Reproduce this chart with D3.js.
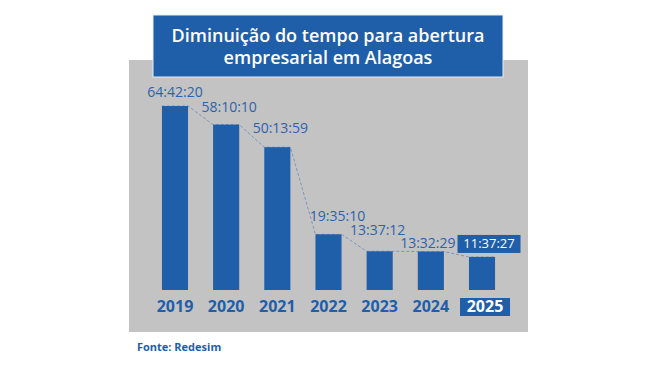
<!DOCTYPE html>
<html>
<head>
<meta charset="utf-8">
<script src="https://cdn.jsdelivr.net/npm/d3@7"></script>
<style>
  body { margin: 0; background: #fff; }
  svg { display: block; font-family: "Open Sans", sans-serif; }
</style>
</head>
<body>
<svg id="chart"></svg>
<script>
const years = ["2019", "2020", "2021", "2022", "2023", "2024", "2025"];
const times = ["64:42:20", "58:10:10", "50:13:59", "19:35:10", "13:37:12", "13:32:29", "11:37:27"];
const titleLines = ["Diminuição do tempo para abertura", "empresarial em Alagoas"];
const source = "Fonte: Redesim";

// label nudges (dx, gap above bar) as in the original artwork
const labelShift = [[0, 9], [3, 13], [3, 14], [9, 13], [-2, 16], [-3, 4], [7, 7]];

const toHours = t => {
    const p = t.split(":").map(Number);
    return p[0] + p[1] / 60 + p[2] / 3600;
};
const data = years.map((y, i) => ({year: y, label: times[i], value: toHours(times[i])}));

const width = 660, height = 370;
const blue = "#1f5ea8";

const svg = d3.select("#chart")
    .attr("width", width)
    .attr("height", height);

svg.append("rect").attr("width", width).attr("height", height).attr("fill", "#fff");

// grey panel
svg.append("rect")
    .attr("x", 129).attr("y", 60)
    .attr("width", 399).attr("height", 272)
    .attr("fill", "#c3c3c3");

const x = d3.scaleBand()
    .domain(years)
    .range([149.4, 507.6])
    .paddingInner(0.49)
    .paddingOuter(0.245);

const y = d3.scaleLinear()
    .domain([0, 70])
    .range([290, 91]);

// dashed line across bar tops
const pts = [];
data.forEach(d => {
    pts.push([x(d.year), y(d.value)]);
    pts.push([x(d.year) + x.bandwidth(), y(d.value)]);
});
svg.append("path")
    .attr("d", d3.line()(pts))
    .attr("fill", "none")
    .attr("stroke", "#7896c2")
    .attr("stroke-width", 1)
    .attr("stroke-dasharray", "3,2");

svg.selectAll(".bar")
    .data(data)
    .join("rect")
    .attr("class", "bar")
    .attr("x", d => x(d.year))
    .attr("y", d => y(d.value))
    .attr("width", x.bandwidth())
    .attr("height", d => y(0) - y(d.value))
    .attr("fill", blue);

// value labels
const last = data.length - 1;
data.forEach((d, i) => {
    const cx = x(d.year) + x.bandwidth() / 2 + labelShift[i][0];
    if (i === last) {
        const bottom = y(d.value) - 4;
        svg.append("rect")
            .attr("x", cx - 31.5).attr("y", bottom - 18)
            .attr("width", 63).attr("height", 18)
            .attr("fill", blue);
        svg.append("text")
            .attr("x", cx).attr("y", bottom - 4.5)
            .attr("text-anchor", "middle")
            .attr("font-size", 13).attr("font-weight", 400)
            .attr("fill", "#fff")
            .text(d.label);
    } else {
        svg.append("text")
            .attr("x", cx).attr("y", y(d.value) - labelShift[i][1])
            .attr("text-anchor", "middle")
            .attr("font-size", 14).attr("font-weight", 400)
            .attr("fill", "#2f62aa")
            .text(d.label);
    }
});

// year axis
const xAxis = svg.append("g")
    .attr("transform", "translate(0,312)");
const lastX = x(years[last]) + x.bandwidth() / 2 + 3;
xAxis.append("rect")
    .attr("x", lastX - 25).attr("y", -14)
    .attr("width", 50).attr("height", 18)
    .attr("fill", blue);
xAxis.selectAll("text")
    .data(years)
    .join("text")
    .attr("x", (d, i) => x(d) + x.bandwidth() / 2 + (i === last ? 3 : 0))
    .attr("text-anchor", "middle")
    .attr("font-size", 16).attr("font-weight", 700)
    .attr("fill", (d, i) => i === last ? "#fff" : blue)
    .text(d => d);

// title box
svg.append("rect")
    .attr("x", 153).attr("y", 15)
    .attr("width", 350).attr("height", 62)
    .attr("fill", blue)
    .attr("stroke", "#e6eef7").attr("stroke-width", 1);
svg.selectAll(".title")
    .data(titleLines)
    .join("text")
    .attr("class", "title")
    .attr("x", 328)
    .attr("y", (d, i) => 42 + i * 22)
    .attr("text-anchor", "middle")
    .attr("font-size", 18).attr("font-weight", 600)
    .attr("fill", "#fff")
    .text(d => d);

svg.append("text")
    .attr("x", 137).attr("y", 351)
    .attr("font-size", 11).attr("font-weight", 700)
    .attr("fill", blue)
    .text(source);
</script>
</body>
</html>
